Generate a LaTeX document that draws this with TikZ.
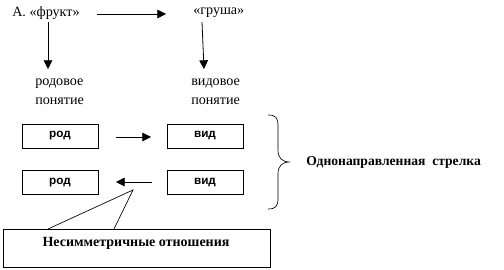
\documentclass[tikz,border=0pt]{standalone}
\usepackage{fontspec}
\setmainfont{Liberation Serif}
\newfontfamily\arialfont{Liberation Sans}
\usetikzlibrary{arrows.meta}
\begin{document}
\begin{tikzpicture}[x=0.75pt,y=-0.75pt,
  lbl/.style={inner sep=0pt,font=\fontsize{10.6pt}{12pt}\selectfont},
  boxn/.style={draw,line width=0.6pt,minimum width=57pt,minimum height=18pt,inner sep=0pt,font=\arialfont\bfseries\fontsize{8.8pt}{10pt}\selectfont},
  arr/.style={line width=0.6pt,-{Triangle[length=6.5pt,width=6.5pt]}},
  bold/.style={inner sep=0pt,font=\bfseries\fontsize{10.5pt}{12pt}\selectfont}]
\useasboundingbox[fill=white] (0,0) rectangle (504,270);
\node[lbl,anchor=west] (fruit) at (12,13) {А. «фрукт»};
\node[lbl,anchor=west] (pear) at (193,13) {«груша»};
\coordinate (h1) at (97,14);
\coordinate (h2) at (166,14);
\draw[arr] (h1) -- (h2);
\coordinate (v1a) at (48,22);
\coordinate (v1b) at (48,69);
\draw[arr] (v1a) -- (v1b);
\coordinate (v2a) at (202,22);
\coordinate (v2b) at (204,69);
\draw[arr] (v2a) -- (v2b);
\node[lbl,anchor=west,align=left] (gen) at (35,92) {родовое\\[2pt]понятие};
\node[lbl,anchor=west,align=left] (spec) at (191,92) {видовое\\[2pt]понятие};
\node[boxn] (rod1) at (60,136) {род};
\node[boxn] (vid1) at (205,136) {вид};
\node[boxn] (rod2) at (60,182.5) {род};
\node[boxn] (vid2) at (205,182.5) {вид};
\coordinate (a1) at (116,137);
\coordinate (a2) at (151,137);
\draw[arr] (a1) -- (a2);
\coordinate (b1) at (152,182);
\coordinate (b2) at (116,182);
\draw[arr] (b1) -- (b2);
\coordinate (br1) at (268,115);
\coordinate (br2) at (268,209);
\coordinate (brt) at (290,162);
\draw[line width=0.5pt] (br1) .. controls (276,115) and (278,118) .. (278,126)
  -- (278,150) .. controls (278,158) and (282,162) .. (brt)
  .. controls (282,162) and (278,166) .. (278,174)
  -- (278,198) .. controls (278,206) and (276,209) .. (br2);
\node[bold,anchor=west,font=\bfseries\fontsize{10.2pt}{12pt}\selectfont] (oneway) at (306,162) {Однонаправленная\ \ стрелка};
\node[draw,line width=0.6pt,minimum width=200.25pt,minimum height=28.5pt,inner sep=0pt] (call) at (136.5,248) {};
\node[bold] (calltext) at (136,243) {Несимметричные отношения};
\coordinate (tip) at (133,190);
\coordinate (c1) at (48,229);
\coordinate (c2) at (114,229);
\draw[line width=0.5pt] (c1) -- (tip) -- (c2);
\end{tikzpicture}
\end{document}
